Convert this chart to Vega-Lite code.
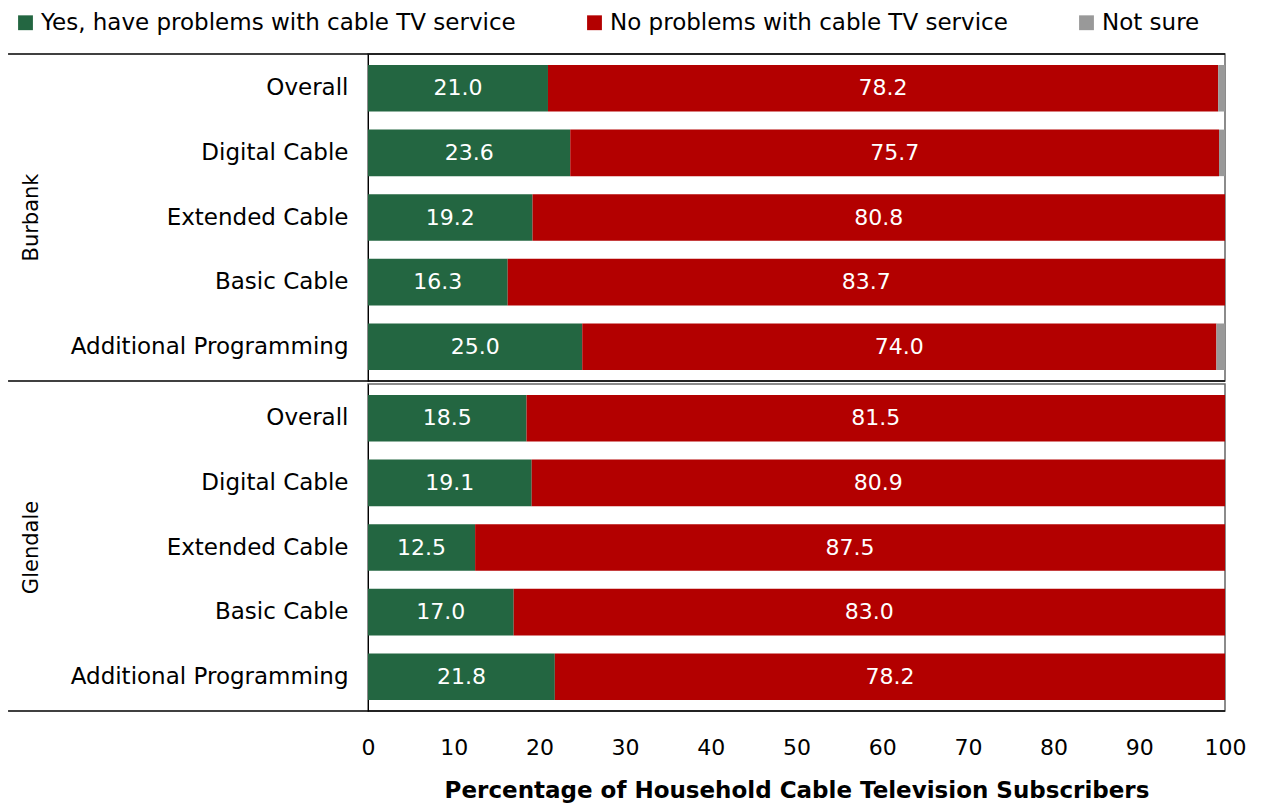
{
  "$schema": "https://vega.github.io/schema/vega-lite/v6.json",
  "background": "white",
  "padding": {"left": 6, "top": 11, "right": 5, "bottom": 5},
  "config": {
    "font": "DejaVu Sans",
    "view": {"stroke": "#666666", "strokeWidth": 1.5},
    "facet": {"spacing": 0}
  },
  "data": {
    "values": [
      {"City": "Burbank", "Type": "Overall", "Response": "Yes, have problems with cable TV service", "Value": 21.0},
      {"City": "Burbank", "Type": "Overall", "Response": "No problems with cable TV service", "Value": 78.2},
      {"City": "Burbank", "Type": "Overall", "Response": "Not sure", "Value": 0.8},
      {"City": "Burbank", "Type": "Digital Cable", "Response": "Yes, have problems with cable TV service", "Value": 23.6},
      {"City": "Burbank", "Type": "Digital Cable", "Response": "No problems with cable TV service", "Value": 75.7},
      {"City": "Burbank", "Type": "Digital Cable", "Response": "Not sure", "Value": 0.7},
      {"City": "Burbank", "Type": "Extended Cable", "Response": "Yes, have problems with cable TV service", "Value": 19.2},
      {"City": "Burbank", "Type": "Extended Cable", "Response": "No problems with cable TV service", "Value": 80.8},
      {"City": "Burbank", "Type": "Basic Cable", "Response": "Yes, have problems with cable TV service", "Value": 16.3},
      {"City": "Burbank", "Type": "Basic Cable", "Response": "No problems with cable TV service", "Value": 83.7},
      {"City": "Burbank", "Type": "Additional Programming", "Response": "Yes, have problems with cable TV service", "Value": 25.0},
      {"City": "Burbank", "Type": "Additional Programming", "Response": "No problems with cable TV service", "Value": 74.0},
      {"City": "Burbank", "Type": "Additional Programming", "Response": "Not sure", "Value": 1.0},
      {"City": "Glendale", "Type": "Overall", "Response": "Yes, have problems with cable TV service", "Value": 18.5},
      {"City": "Glendale", "Type": "Overall", "Response": "No problems with cable TV service", "Value": 81.5},
      {"City": "Glendale", "Type": "Digital Cable", "Response": "Yes, have problems with cable TV service", "Value": 19.1},
      {"City": "Glendale", "Type": "Digital Cable", "Response": "No problems with cable TV service", "Value": 80.9},
      {"City": "Glendale", "Type": "Extended Cable", "Response": "Yes, have problems with cable TV service", "Value": 12.5},
      {"City": "Glendale", "Type": "Extended Cable", "Response": "No problems with cable TV service", "Value": 87.5},
      {"City": "Glendale", "Type": "Basic Cable", "Response": "Yes, have problems with cable TV service", "Value": 17.0},
      {"City": "Glendale", "Type": "Basic Cable", "Response": "No problems with cable TV service", "Value": 83.0},
      {"City": "Glendale", "Type": "Additional Programming", "Response": "Yes, have problems with cable TV service", "Value": 21.8},
      {"City": "Glendale", "Type": "Additional Programming", "Response": "No problems with cable TV service", "Value": 78.2}
    ]
  },
  "facet": {
    "row": {
      "field": "City",
      "type": "nominal",
      "title": null,
      "header": {"labelOrient": "left", "labelAngle": -90, "labelFontSize": 21, "labelFont": "DejaVu Sans", "labelColor": "black", "labelPadding": -47, "labelAlign": "center", "labelBaseline": "middle"}
    }
  },
  "resolve": {"scale": {"y": "independent"}},
  "spec": {
    "width": 857,
    "height": 327,
    "encoding": {
      "y": {
        "field": "Type",
        "type": "nominal",
        "sort": ["Overall", "Digital Cable", "Extended Cable", "Basic Cable", "Additional Programming"],
        "scale": {"paddingInner": 0.28, "paddingOuter": 0.17},
        "axis": {"title": null, "ticks": false, "domain": true, "domainColor": "black", "domainWidth": 1, "labelFontSize": 23, "labelColor": "black", "labelPadding": 20, "labelFont": "DejaVu Sans", "labelLimit": 0}
      }
    },
    "layer": [
      {
        "transform": [{"stack": "Value", "groupby": ["City", "Type"], "as": ["ValueStart", "ValueEnd"]}],
        "mark": {"type": "bar"},
        "encoding": {
          "x": {
            "field": "ValueStart",
            "type": "quantitative",
            "scale": {"domain": [0, 100], "nice": false},
            "axis": {"title": "Percentage of Household Cable Television Subscribers", "titleFontSize": 23, "titleFontWeight": "bold", "titleColor": "black", "titlePadding": 21, "labelFontSize": 22, "labelColor": "black", "labelPadding": 24, "ticks": false, "domain": false, "grid": false, "tickCount": 10, "labelFlush": false}
          },
          "x2": {"field": "ValueEnd"},
          "color": {
            "field": "Response",
            "type": "nominal",
            "scale": {
              "domain": ["Yes, have problems with cable TV service", "No problems with cable TV service", "Not sure"],
              "range": ["#236641", "#B30000", "#999999"]
            },
            "legend": {"title": null, "orient": "none", "legendX": -354, "legendY": -43, "direction": "horizontal", "symbolType": "square", "symbolSize": 220, "symbolStrokeWidth": 0, "labelFontSize": 23, "labelColor": "black", "columnPadding": 67, "labelOffset": 4, "labelFont": "DejaVu Sans", "labelLimit": 0}
          }
        }
      },
      {
        "transform": [{"filter": "datum.Response != 'Not sure'"}],
        "mark": {"type": "text", "color": "white", "fontSize": 22, "baseline": "middle", "align": "center"},
        "encoding": {
          "x": {"field": "Value", "type": "quantitative", "stack": "zero", "bandPosition": 0.5},
          "text": {"field": "Value", "type": "quantitative", "format": ".1f"},
          "detail": {"field": "Response", "type": "nominal"},
          "order": {"value": null}
        }
      },
      {
        "transform": [{"filter": "datum.Type == 'Additional Programming' && datum.Response == 'No problems with cable TV service'"}],
        "mark": {"type": "rule", "color": "black", "strokeWidth": 1.5},
        "encoding": {
          "x": {"datum": -42},
          "x2": {"datum": 100},
          "y": {"field": "Type", "type": "nominal", "bandPosition": 1.236}
        }
      },
      {
        "transform": [{"filter": "datum.City == 'Burbank' && datum.Type == 'Overall' && datum.Response == 'No problems with cable TV service'"}],
        "mark": {"type": "rule", "color": "black", "strokeWidth": 1.5},
        "encoding": {
          "x": {"datum": -42},
          "x2": {"datum": 100},
          "y": {"field": "Type", "type": "nominal", "bandPosition": -0.236}
        }
      }
    ]
  }
}
